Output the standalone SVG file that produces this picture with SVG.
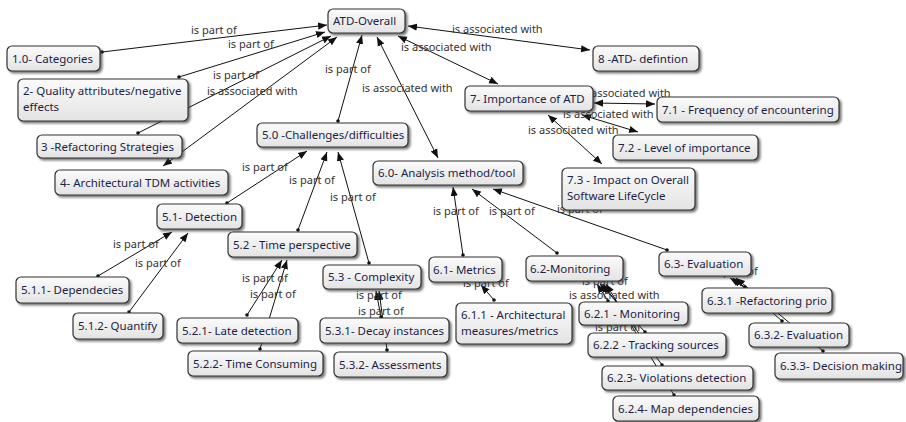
<svg xmlns="http://www.w3.org/2000/svg" width="906" height="422" viewBox="0 0 906 422">
<style>
.n rect{fill:url(#g);stroke:#333;stroke-width:1.2;filter:url(#sh)}
.n text{font-family:"Noto Sans","Open Sans",sans-serif;font-size:11.5px;fill:#1e1e46}
.e line{stroke:#111;stroke-width:1;marker-start:url(#dot);marker-end:url(#arr)}
.e line.b{marker-start:url(#arr2)}
.e text{font-family:"Noto Sans","Open Sans",sans-serif;font-size:11px;fill:#333}
</style>
<defs>
<linearGradient id="g" x1="0" y1="0" x2="0" y2="1"><stop offset="0" stop-color="#fbfbfb"/><stop offset="1" stop-color="#e3e3e3"/></linearGradient>
<filter id="sh" x="-10%" y="-20%" width="130%" height="160%"><feDropShadow dx="2" dy="2" stdDeviation="1" flood-color="#333" flood-opacity="0.65"/></filter>
<marker id="arr" viewBox="0 0 10 10" refX="10" refY="5" markerWidth="9" markerHeight="9" markerUnits="userSpaceOnUse" orient="auto"><path d="M0,1 L10,5 L0,9 z" fill="#111"/></marker>
<marker id="arr2" viewBox="0 0 10 10" refX="10" refY="5" markerWidth="9" markerHeight="9" markerUnits="userSpaceOnUse" orient="auto-start-reverse"><path d="M0,1 L10,5 L0,9 z" fill="#111"/></marker>
<marker id="dot" viewBox="0 0 4 4" refX="2" refY="2" markerWidth="4" markerHeight="4" markerUnits="userSpaceOnUse"><circle cx="2" cy="2" r="1.8" fill="#111"/></marker>
</defs>
<rect width="906" height="422" fill="#fff"/>
<g id="connectors" class="e">
<line x1="102" y1="52" x2="327" y2="25"/>
<line x1="179" y1="77" x2="325" y2="32"/>
<line x1="138" y1="133" x2="331" y2="36"/>
<line class="b" x1="163" y1="166" x2="337" y2="37"/>
<line x1="338" y1="121" x2="362" y2="35"/>
<line class="b" x1="438" y1="158" x2="377" y2="37"/>
<line class="b" x1="590" y1="50" x2="408" y2="26"/>
<line class="b" x1="498" y1="84" x2="398" y2="36"/>
<line class="b" x1="655" y1="104" x2="594" y2="103"/>
<line class="b" x1="638" y1="132" x2="582" y2="115"/>
<line class="b" x1="602" y1="164" x2="548" y2="115"/>
<line x1="227" y1="203" x2="307" y2="151"/>
<line x1="298" y1="230" x2="327" y2="152"/>
<line x1="369" y1="263" x2="338" y2="152"/>
<line x1="463" y1="255" x2="453" y2="187"/>
<line x1="557" y1="253" x2="472" y2="189"/>
<line x1="667" y1="250" x2="493" y2="189"/>
<line x1="98" y1="276" x2="172" y2="232"/>
<line x1="129" y1="312" x2="188" y2="233"/>
<line x1="247" y1="315" x2="282" y2="260"/>
<line x1="260" y1="349" x2="287" y2="260"/>
<line x1="381" y1="317" x2="376" y2="291"/>
<line x1="387" y1="350" x2="379" y2="291"/>
<line x1="494" y1="300" x2="481" y2="285"/>
<line x1="608" y1="301" x2="597" y2="284"/>
<line x1="645" y1="332" x2="600" y2="284"/>
<line x1="662" y1="365" x2="603" y2="284"/>
<line x1="674" y1="395" x2="606" y2="284"/>
<line x1="745" y1="287" x2="730" y2="278"/>
<line x1="782" y1="321" x2="733" y2="278"/>
<line x1="823" y1="351" x2="736" y2="278"/>
<text x="191" y="34">is part of</text>
<text x="228" y="48">is part of</text>
<text x="213" y="79">is part of</text>
<text x="207" y="95">is associated with</text>
<text x="325" y="73">is part of</text>
<text x="362" y="92">is associated with</text>
<text x="452" y="33">is associated with</text>
<text x="401" y="51">is associated with</text>
<text x="580" y="97">is associated with</text>
<text x="563" y="118">is associated with</text>
<text x="528" y="134">is associated with</text>
<text x="242" y="171">is part of</text>
<text x="289" y="184">is part of</text>
<text x="330" y="201">is part of</text>
<text x="433" y="215">is part of</text>
<text x="489" y="215">is part of</text>
<text x="557" y="213">is part of</text>
<text x="113" y="248">is part of</text>
<text x="135" y="267">is part of</text>
<text x="242" y="282">is part of</text>
<text x="250" y="298">is part of</text>
<text x="356" y="299">is part of</text>
<text x="358" y="315">is part of</text>
<text x="463" y="287">is part of</text>
<text x="582" y="285">is part of</text>
<text x="569" y="299">is associated with</text>
<text x="595" y="331">is part of</text>
<text x="712" y="275">is part of</text>
</g>
<g id="n0" class="n"><rect x="328" y="9" width="77" height="24" rx="5"/><text x="333" y="25">ATD-Overall</text></g>
<g id="n1" class="n"><rect x="7" y="46" width="93" height="25" rx="5"/><text x="12" y="62.5">1.0- Categories</text></g>
<g id="n2" class="n"><rect x="18" y="79" width="170" height="42" rx="5"/><text x="23" y="95">2- Quality attributes/negative</text><text x="23" y="111">effects</text></g>
<g id="n3" class="n"><rect x="37" y="135" width="145" height="23" rx="5"/><text x="41" y="150.5">3 -Refactoring Strategies</text></g>
<g id="n4" class="n"><rect x="55" y="170" width="173" height="25" rx="5"/><text x="60" y="186.5">4- Architectural TDM activities</text></g>
<g id="n50" class="n"><rect x="257" y="123" width="151" height="24" rx="5"/><text x="262" y="139">5.0 -Challenges/difficulties</text></g>
<g id="n60" class="n"><rect x="373" y="161" width="150" height="24" rx="5"/><text x="378" y="177">6.0- Analysis method/tool</text></g>
<g id="n7" class="n"><rect x="465" y="86" width="128" height="25" rx="5"/><text x="470" y="102.5">7- Importance of ATD</text></g>
<g id="n8" class="n"><rect x="593" y="46" width="106" height="25" rx="5"/><text x="598" y="62.5">8 -ATD- defintion</text></g>
<g id="n71" class="n"><rect x="657" y="97" width="182" height="25" rx="5"/><text x="662" y="113.5">7.1 - Frequency of encountering</text></g>
<g id="n72" class="n"><rect x="613" y="135" width="145" height="25" rx="5"/><text x="618" y="151.5">7.2 - Level of importance</text></g>
<g id="n73" class="n"><rect x="562" y="168" width="133" height="42" rx="5"/><text x="567" y="184">7.3 - Impact on Overall</text><text x="567" y="200">Software LifeCycle</text></g>
<g id="n51" class="n"><rect x="157" y="204" width="85" height="25" rx="5"/><text x="162" y="220.5">5.1- Detection</text></g>
<g id="n52" class="n"><rect x="228" y="232" width="129" height="25" rx="5"/><text x="233" y="248.5">5.2 - Time perspective</text></g>
<g id="n53" class="n"><rect x="323" y="265" width="98" height="24" rx="5"/><text x="328" y="281">5.3 - Complexity</text></g>
<g id="n61" class="n"><rect x="429" y="257" width="73" height="25" rx="5"/><text x="433" y="273.5">6.1- Metrics</text></g>
<g id="n62" class="n"><rect x="526" y="256" width="97" height="25" rx="5"/><text x="530" y="272.5">6.2-Monitoring</text></g>
<g id="n63" class="n"><rect x="659" y="252" width="92" height="24" rx="5"/><text x="664" y="268">6.3- Evaluation</text></g>
<g id="n511" class="n"><rect x="16" y="277" width="113" height="26" rx="5"/><text x="21" y="294">5.1.1- Dependecies</text></g>
<g id="n512" class="n"><rect x="73" y="313" width="90" height="26" rx="5"/><text x="78" y="330">5.1.2- Quantify</text></g>
<g id="n521" class="n"><rect x="177" y="318" width="121" height="25" rx="5"/><text x="182" y="334.5">5.2.1- Late detection</text></g>
<g id="n522" class="n"><rect x="188" y="351" width="135" height="25" rx="5"/><text x="193" y="367.5">5.2.2- Time Consuming</text></g>
<g id="n531" class="n"><rect x="320" y="318" width="129" height="25" rx="5"/><text x="325" y="334.5">5.3.1- Decay instances</text></g>
<g id="n532" class="n"><rect x="334" y="352" width="113" height="25" rx="5"/><text x="339" y="368.5">5.3.2- Assessments</text></g>
<g id="n611" class="n"><rect x="456" y="303" width="116" height="41" rx="5"/><text x="461" y="318.5">6.1.1 - Architectural</text><text x="461" y="334.5">measures/metrics</text></g>
<g id="n621" class="n"><rect x="579" y="302" width="109" height="23" rx="5"/><text x="584" y="317.5">6.2.1 - Monitoring</text></g>
<g id="n622" class="n"><rect x="588" y="333" width="138" height="24" rx="5"/><text x="593" y="349">6.2.2 - Tracking sources</text></g>
<g id="n623" class="n"><rect x="602" y="366" width="151" height="24" rx="5"/><text x="607" y="382">6.2.3- Violations detection</text></g>
<g id="n624" class="n"><rect x="613" y="396" width="146" height="25" rx="5"/><text x="618" y="412.5">6.2.4- Map dependencies</text></g>
<g id="n631" class="n"><rect x="702" y="288" width="130" height="25" rx="5"/><text x="707" y="304.5">6.3.1 -Refactoring prio</text></g>
<g id="n632" class="n"><rect x="749" y="323" width="100" height="24" rx="5"/><text x="754" y="339">6.3.2- Evaluation</text></g>
<g id="n633" class="n"><rect x="775" y="353" width="128" height="26" rx="5"/><text x="780" y="370">6.3.3- Decision making</text></g>
</svg>
